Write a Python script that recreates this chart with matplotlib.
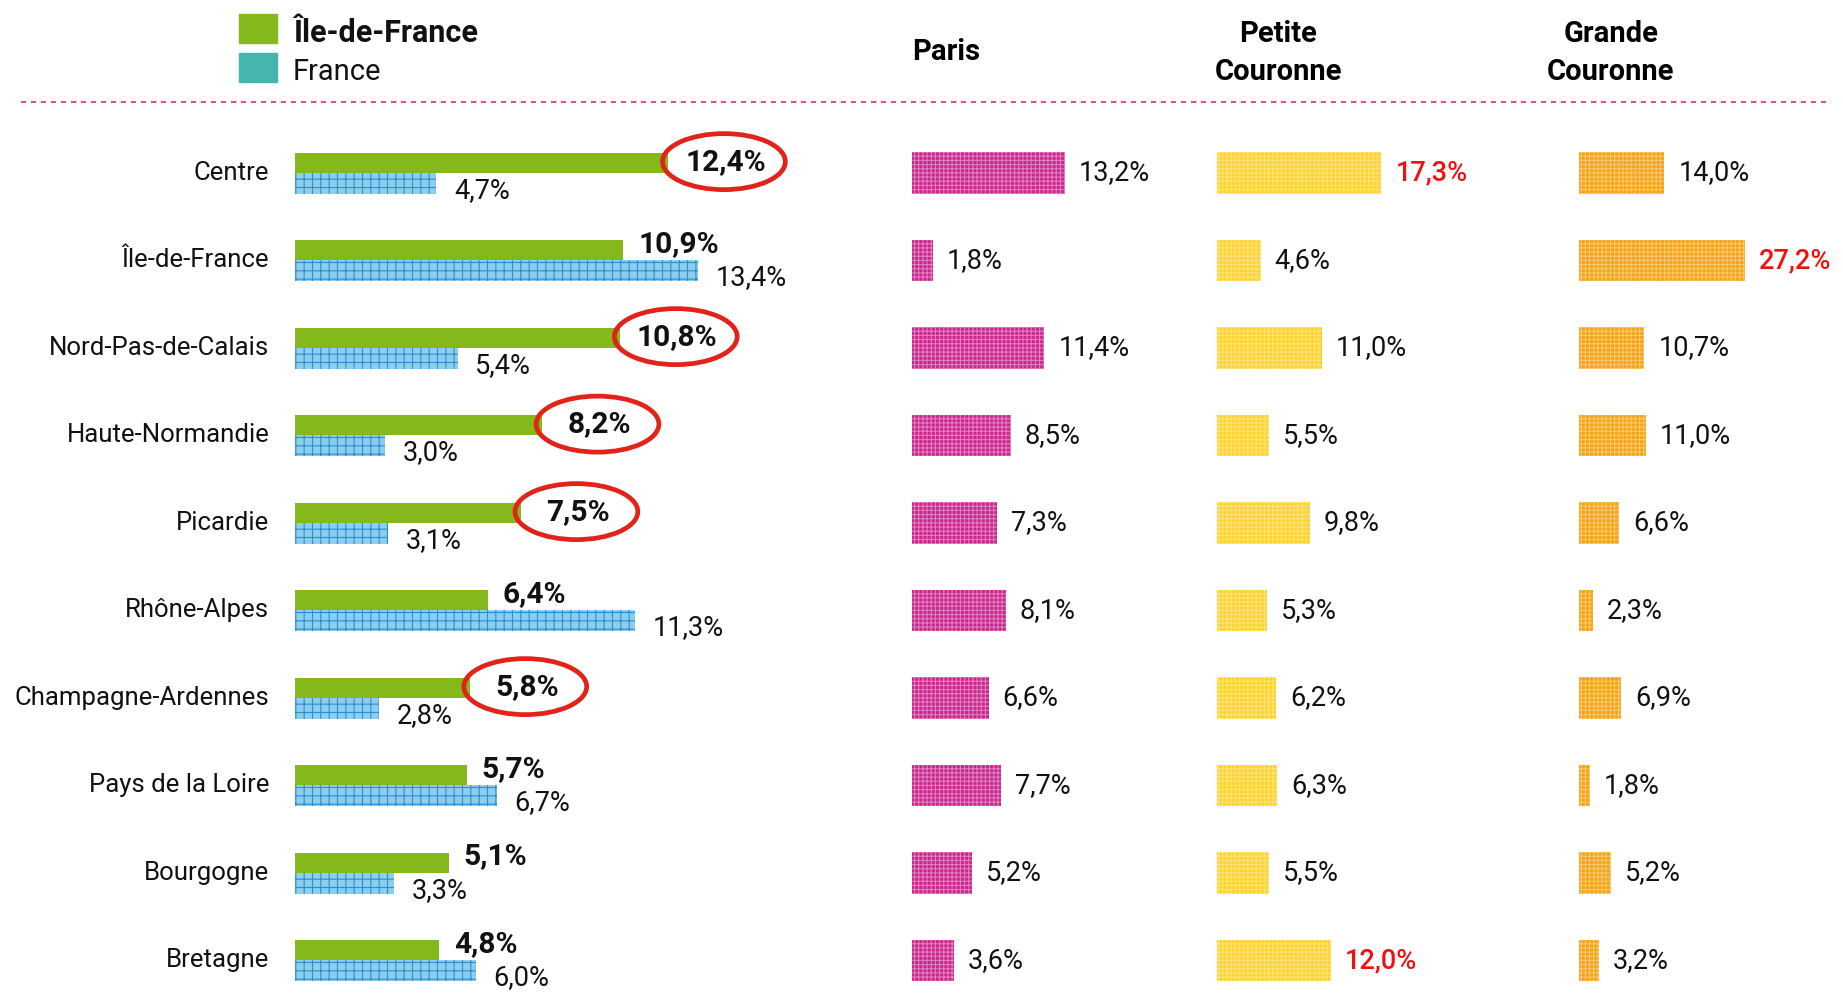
import matplotlib
matplotlib.use("Agg")
import matplotlib.pyplot as plt
from matplotlib.patches import Ellipse, Rectangle
from matplotlib.lines import Line2D

plt.rcParams['font.family'] = ['Roboto', 'DejaVu Sans']
plt.rcParams['hatch.linewidth'] = 0.8

# data
regions = ["Centre", "Île-de-France", "Nord-Pas-de-Calais", "Haute-Normandie",
           "Picardie", "Rhône-Alpes", "Champagne-Ardennes", "Pays de la Loire",
           "Bourgogne", "Bretagne"]
idf = [12.4, 10.9, 10.8, 8.2, 7.5, 6.4, 5.8, 5.7, 5.1, 4.8]
france = [4.7, 13.4, 5.4, 3.0, 3.1, 11.3, 2.8, 6.7, 3.3, 6.0]
paris = [13.2, 1.8, 11.4, 8.5, 7.3, 8.1, 6.6, 7.7, 5.2, 3.6]
petite = [17.3, 4.6, 11.0, 5.5, 9.8, 5.3, 6.2, 6.3, 5.5, 12.0]
grande = [14.0, 27.2, 10.7, 11.0, 6.6, 2.3, 6.9, 1.8, 5.2, 3.2]
circled = [True, False, True, True, True, False, True, False, False, False]
petite_red = [0, 9]
grande_red = [1]

W, H = 1843, 994
fig = plt.figure(figsize=(W / 100, H / 100), dpi=100)

ROW0, STEP = 173, 87.5   # pixel y of first row, row spacing


def fmt(v):
    return "{:.1f}".format(v).replace(".", ",") + "%"


def make_ax(left_px, width_px, px_per_pct):
    top = ROW0 - 0.5 * STEP
    bottom = ROW0 + 9.5 * STEP
    ax = fig.add_axes([left_px / W, (H - bottom) / H, width_px / W, (bottom - top) / H])
    ax.set_xlim(0, width_px / px_per_pct)
    ax.set_ylim(9.5, -0.5)
    ax.axis('off')
    return ax


def fx(px):
    return px / W


def fy(py):
    return 1 - py / H


# left panel : Île-de-France vs France
ax = make_ax(295, 560, 30.1)
rows = list(range(len(regions)))
ax.barh([r - 0.115 for r in rows], idf, height=0.23, color='#84B81B', linewidth=0)
ax.barh([r + 0.12 for r in rows], france, height=0.24, color='#8DCDEE',
        edgecolor='#2A8FD0', hatch='++', linewidth=0)
for r in rows:
    ax.text(-0.85, r, regions[r], ha='right', va='center', fontsize=18.5, color='#111111')
    if circled[r]:
        ax.text(idf[r] + 1.9, r - 0.13, fmt(idf[r]), ha='center', va='center',
                fontsize=21.5, fontweight='bold', color='#111111')
        ax.add_patch(Ellipse((idf[r] + 1.85, r - 0.13), 4.08, 0.64, fill=False,
                             edgecolor='#E2231A', linewidth=3.4, clip_on=False))
    else:
        ax.text(idf[r] + 0.5, r - 0.19, fmt(idf[r]), ha='left', va='center',
                fontsize=21.5, fontweight='bold', color='#111111')
    ax.text(france[r] + 0.58, r + 0.2, fmt(france[r]), ha='left', va='center',
            fontsize=19.5, color='#111111')

# right columns
columns = [
    (paris, 912, 260, 11.6, '#C8288C', '#E47CBF', []),
    (petite, 1217, 330, 9.5, '#FFD22E', '#FFE47A', petite_red),
    (grande, 1579, 264, 6.1, '#F5A318', '#F9C868', grande_red),
]
for vals, left, width, scale, face, hatchc, reds in columns:
    cax = make_ax(left, width, scale)
    cax.barh(rows, vals, height=0.47, color=face, edgecolor=hatchc,
             hatch='++++', linewidth=0)
    gap = 14 / scale
    for r in rows:
        if r in reds:
            cax.text(vals[r] + gap, r, fmt(vals[r]), ha='left', va='center',
                     fontsize=19.5, color='#F01010', fontweight='medium')
        else:
            cax.text(vals[r] + gap, r, fmt(vals[r]), ha='left', va='center',
                     fontsize=19.5, color='#111111')

# headers
fig.text(fx(912), fy(52.5), "Paris", ha='left', va='center', fontsize=21, fontweight='bold')
fig.text(fx(1278), fy(34.5), "Petite", ha='center', va='center', fontsize=21, fontweight='bold')
fig.text(fx(1278), fy(71.5), "Couronne", ha='center', va='center', fontsize=21, fontweight='bold')
fig.text(fx(1611), fy(34.5), "Grande", ha='center', va='center', fontsize=21, fontweight='bold')
fig.text(fx(1611), fy(71.5), "Couronne", ha='center', va='center', fontsize=21, fontweight='bold')

# legend
fig.patches.append(Rectangle((fx(239), fy(43)), 38 / W, 29 / H, color='#84B81B',
                             transform=fig.transFigure, figure=fig))
fig.patches.append(Rectangle((fx(239), fy(82)), 38 / W, 29 / H, color='#45B6AE',
                             transform=fig.transFigure, figure=fig))
fig.text(fx(293), fy(32.5), "Île-de-France", ha='left', va='center', fontsize=22,
         fontweight='bold', color='#111111')
fig.text(fx(293), fy(71.5), "France", ha='left', va='center', fontsize=21, color='#111111')

# dashed separator
fig.lines.append(Line2D([fx(21), fx(1829)], [fy(102), fy(102)], transform=fig.transFigure,
                        color='#D0308F', linewidth=1.2, linestyle=(0, (3, 3))))

fig.savefig("out.png", dpi=100)
